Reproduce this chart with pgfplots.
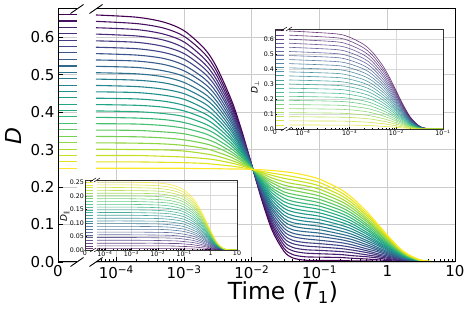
\documentclass[border=0pt]{standalone}
\usepackage{pgfplots}
\pgfplotsset{compat=1.18}
\usepackage{pgfplotstable}
\usepgfplotslibrary{colormaps}
\usepackage{fontspec}
\setmainfont{DejaVu Sans}

\pgfplotstableread{
t c0 c1 c2 c3 c4 c5 c6 c7 c8 c9 c10 c11 c12 c13 c14 c15 c16 c17 c18 c19 c20 c21 c22 c23 c24
5e-5 0.659 0.642 0.625 0.608 0.590 0.573 0.556 0.539 0.522 0.505 0.488 0.471 0.454 0.437 0.420 0.403 0.386 0.369 0.352 0.335 0.318 0.301 0.284 0.267 0.250
2e-4 0.653 0.636 0.620 0.603 0.586 0.569 0.552 0.536 0.519 0.502 0.485 0.468 0.452 0.435 0.418 0.401 0.384 0.368 0.351 0.334 0.317 0.300 0.284 0.267 0.250
5e-4 0.640 0.624 0.608 0.592 0.575 0.559 0.543 0.527 0.510 0.494 0.478 0.461 0.445 0.429 0.413 0.396 0.380 0.364 0.347 0.331 0.315 0.299 0.282 0.266 0.250
1e-3 0.617 0.602 0.587 0.571 0.556 0.541 0.525 0.510 0.495 0.479 0.464 0.449 0.434 0.418 0.403 0.388 0.372 0.357 0.342 0.326 0.311 0.296 0.280 0.265 0.250
2e-3 0.569 0.556 0.542 0.529 0.516 0.503 0.489 0.476 0.463 0.449 0.436 0.423 0.409 0.396 0.383 0.369 0.356 0.343 0.329 0.316 0.303 0.289 0.276 0.263 0.249
3e-3 0.521 0.510 0.499 0.487 0.476 0.465 0.453 0.442 0.430 0.419 0.408 0.396 0.385 0.374 0.362 0.351 0.340 0.328 0.317 0.306 0.294 0.283 0.272 0.260 0.249
5e-3 0.432 0.424 0.416 0.409 0.401 0.394 0.386 0.378 0.371 0.363 0.355 0.348 0.340 0.332 0.325 0.317 0.310 0.302 0.294 0.287 0.279 0.271 0.264 0.256 0.248
7e-3 0.354 0.349 0.345 0.340 0.336 0.332 0.327 0.323 0.318 0.314 0.309 0.305 0.301 0.296 0.292 0.287 0.283 0.279 0.274 0.270 0.265 0.261 0.257 0.252 0.248
1e-2 0.258 0.258 0.257 0.257 0.256 0.256 0.255 0.255 0.254 0.254 0.253 0.253 0.252 0.252 0.252 0.251 0.251 0.250 0.250 0.249 0.249 0.248 0.248 0.247 0.247
1.4e-2 0.166 0.170 0.173 0.176 0.180 0.183 0.186 0.190 0.193 0.196 0.199 0.203 0.206 0.209 0.213 0.216 0.219 0.223 0.226 0.229 0.232 0.236 0.239 0.242 0.246
2e-2 0.084 0.091 0.098 0.104 0.111 0.118 0.124 0.131 0.138 0.144 0.151 0.157 0.164 0.171 0.177 0.184 0.191 0.197 0.204 0.211 0.217 0.224 0.231 0.237 0.244
3e-2 0.028 0.036 0.045 0.054 0.063 0.072 0.081 0.090 0.099 0.108 0.116 0.125 0.134 0.143 0.152 0.161 0.170 0.179 0.187 0.196 0.205 0.214 0.223 0.232 0.241
4e-2 0.011 0.020 0.030 0.039 0.049 0.058 0.068 0.077 0.086 0.096 0.105 0.115 0.124 0.134 0.143 0.153 0.162 0.172 0.181 0.191 0.200 0.209 0.219 0.228 0.238
6e-2 0.005 0.014 0.024 0.033 0.043 0.052 0.062 0.071 0.081 0.090 0.100 0.109 0.118 0.128 0.137 0.147 0.156 0.166 0.175 0.185 0.194 0.204 0.213 0.222 0.232
0.1 0.004 0.013 0.022 0.031 0.040 0.049 0.058 0.068 0.077 0.086 0.095 0.104 0.113 0.122 0.131 0.140 0.149 0.158 0.167 0.176 0.185 0.194 0.203 0.212 0.221
0.2 0.004 0.012 0.020 0.028 0.036 0.044 0.052 0.060 0.067 0.075 0.083 0.091 0.099 0.107 0.115 0.123 0.131 0.139 0.147 0.155 0.163 0.171 0.179 0.187 0.195
0.3 0.003 0.010 0.017 0.025 0.032 0.039 0.046 0.053 0.060 0.067 0.074 0.081 0.088 0.095 0.102 0.109 0.116 0.123 0.130 0.137 0.144 0.151 0.158 0.165 0.172
0.5 0.003 0.008 0.014 0.019 0.025 0.030 0.035 0.041 0.046 0.052 0.057 0.063 0.068 0.074 0.079 0.085 0.090 0.096 0.101 0.107 0.112 0.117 0.123 0.128 0.134
0.7 0.002 0.006 0.011 0.015 0.019 0.023 0.028 0.032 0.036 0.040 0.045 0.049 0.053 0.057 0.062 0.066 0.070 0.074 0.079 0.083 0.087 0.091 0.096 0.100 0.104
1 0.001 0.004 0.007 0.010 0.013 0.016 0.019 0.022 0.025 0.028 0.031 0.034 0.037 0.039 0.042 0.045 0.048 0.051 0.054 0.057 0.060 0.063 0.066 0.069 0.072
1.5 0.001 0.002 0.004 0.005 0.007 0.009 0.010 0.012 0.013 0.015 0.016 0.018 0.020 0.021 0.023 0.024 0.026 0.027 0.029 0.031 0.032 0.034 0.035 0.037 0.038
2 0.000 0.001 0.002 0.003 0.004 0.005 0.005 0.006 0.007 0.008 0.009 0.010 0.010 0.011 0.012 0.013 0.014 0.015 0.016 0.016 0.017 0.018 0.019 0.020 0.021
3 0.000 0.000 0.001 0.001 0.001 0.001 0.002 0.002 0.002 0.002 0.003 0.003 0.003 0.003 0.003 0.004 0.004 0.004 0.004 0.005 0.005 0.005 0.005 0.006 0.006
4 0.000 0.000 0.000 0.000 0.000 0.000 0.000 0.001 0.001 0.001 0.001 0.001 0.001 0.001 0.001 0.001 0.001 0.001 0.001 0.001 0.001 0.001 0.002 0.002 0.002
6 0 0 0 0 0 0 0 0 0 0 0 0 0 0 0 0 0 0 0 0 0 0 0 0 0
10 0 0 0 0 0 0 0 0 0 0 0 0 0 0 0 0 0 0 0 0 0 0 0 0 0
}\maintab

\pgfplotstableread{
x c0 c1 c2 c3 c4 c5 c6 c7 c8 c9 c10 c11 c12 c13 c14 c15 c16 c17 c18 c19 c20 c21 c22 c23 c24
0 0.660 0.643 0.626 0.609 0.592 0.575 0.558 0.540 0.523 0.506 0.489 0.472 0.455 0.438 0.421 0.404 0.387 0.370 0.353 0.335 0.318 0.301 0.284 0.267 0.250
1 0.660 0.643 0.626 0.609 0.592 0.575 0.558 0.540 0.523 0.506 0.489 0.472 0.455 0.438 0.421 0.404 0.387 0.370 0.353 0.335 0.318 0.301 0.284 0.267 0.250
}\mainleft

\pgfplotstableread{
t c0 c1 c2 c3 c4 c5 c6 c7 c8 c9 c10 c11 c12 c13 c14 c15 c16 c17 c18 c19 c20 c21 c22 c23 c24
5e-5 0.654 0.626 0.599 0.572 0.545 0.517 0.490 0.463 0.436 0.408 0.381 0.354 0.327 0.300 0.272 0.245 0.218 0.191 0.163 0.136 0.109 0.082 0.054 0.027 0.000
5e-4 0.635 0.609 0.582 0.556 0.530 0.503 0.477 0.450 0.424 0.397 0.371 0.344 0.318 0.291 0.265 0.238 0.212 0.185 0.159 0.132 0.106 0.079 0.053 0.026 0.000
1e-3 0.612 0.587 0.561 0.536 0.510 0.485 0.459 0.434 0.408 0.383 0.357 0.332 0.306 0.281 0.255 0.230 0.204 0.179 0.153 0.128 0.102 0.077 0.051 0.026 0.000
2e-3 0.564 0.541 0.517 0.494 0.470 0.447 0.423 0.400 0.376 0.353 0.329 0.306 0.282 0.259 0.235 0.212 0.188 0.165 0.141 0.118 0.094 0.071 0.047 0.024 0.000
3e-3 0.516 0.495 0.473 0.452 0.430 0.409 0.387 0.366 0.344 0.323 0.301 0.280 0.258 0.237 0.215 0.194 0.172 0.151 0.129 0.108 0.086 0.065 0.043 0.022 0.000
5e-3 0.427 0.409 0.391 0.373 0.356 0.338 0.320 0.302 0.285 0.267 0.249 0.231 0.213 0.196 0.178 0.160 0.142 0.124 0.107 0.089 0.071 0.053 0.036 0.018 0.000
7e-3 0.349 0.334 0.320 0.305 0.290 0.276 0.261 0.247 0.232 0.218 0.203 0.189 0.174 0.160 0.145 0.131 0.116 0.102 0.087 0.073 0.058 0.044 0.029 0.015 0.000
1e-2 0.253 0.243 0.232 0.222 0.211 0.200 0.190 0.179 0.169 0.158 0.148 0.137 0.127 0.116 0.105 0.095 0.084 0.074 0.063 0.053 0.042 0.032 0.021 0.011 0.000
1.4e-2 0.162 0.155 0.148 0.141 0.135 0.128 0.121 0.114 0.108 0.101 0.094 0.088 0.081 0.074 0.067 0.061 0.054 0.047 0.040 0.034 0.027 0.020 0.013 0.007 0.000
2e-2 0.079 0.076 0.073 0.070 0.066 0.063 0.060 0.056 0.053 0.050 0.046 0.043 0.040 0.036 0.033 0.030 0.026 0.023 0.020 0.017 0.013 0.010 0.007 0.003 0.000
3e-2 0.023 0.022 0.021 0.020 0.019 0.018 0.017 0.016 0.015 0.014 0.013 0.012 0.011 0.010 0.009 0.009 0.008 0.007 0.006 0.005 0.004 0.003 0.002 0.001 0.000
4e-2 0.006 0.006 0.006 0.005 0.005 0.005 0.005 0.004 0.004 0.004 0.004 0.003 0.003 0.003 0.003 0.002 0.002 0.002 0.002 0.001 0.001 0.001 0.001 0.000 0.000
6e-2 0 0 0 0 0 0 0 0 0 0 0 0 0 0 0 0 0 0 0 0 0 0 0 0 0
0.1 0 0 0 0 0 0 0 0 0 0 0 0 0 0 0 0 0 0 0 0 0 0 0 0 0
}\perptab

\pgfplotstableread{
x c0 c1 c2 c3 c4 c5 c6 c7 c8 c9 c10 c11 c12 c13 c14 c15 c16 c17 c18 c19 c20 c21 c22 c23 c24
0 0.655 0.628 0.600 0.573 0.546 0.519 0.491 0.464 0.437 0.409 0.382 0.355 0.328 0.300 0.273 0.246 0.218 0.191 0.164 0.136 0.109 0.082 0.055 0.027 0.000
1 0.655 0.628 0.600 0.573 0.546 0.519 0.491 0.464 0.437 0.409 0.382 0.355 0.328 0.300 0.273 0.246 0.218 0.191 0.164 0.136 0.109 0.082 0.055 0.027 0.000
}\perpleft

\pgfplotstableread{
t c0 c1 c2 c3 c4 c5 c6 c7 c8 c9 c10 c11 c12 c13 c14 c15 c16 c17 c18 c19 c20 c21 c22 c23 c24
5e-5 0.005 0.015 0.025 0.036 0.046 0.056 0.066 0.076 0.087 0.097 0.107 0.117 0.128 0.138 0.148 0.158 0.168 0.179 0.189 0.199 0.209 0.219 0.230 0.240 0.250
1e-3 0.005 0.015 0.025 0.036 0.046 0.056 0.066 0.076 0.087 0.097 0.107 0.117 0.128 0.138 0.148 0.158 0.168 0.179 0.189 0.199 0.209 0.219 0.230 0.240 0.250
1e-2 0.005 0.015 0.025 0.035 0.045 0.055 0.065 0.076 0.086 0.096 0.106 0.116 0.126 0.136 0.146 0.156 0.166 0.176 0.186 0.197 0.207 0.217 0.227 0.237 0.247
3e-2 0.005 0.015 0.024 0.034 0.044 0.054 0.064 0.074 0.084 0.093 0.103 0.113 0.123 0.133 0.142 0.152 0.162 0.172 0.182 0.192 0.201 0.211 0.221 0.231 0.241
6e-2 0.005 0.014 0.024 0.033 0.043 0.052 0.061 0.071 0.080 0.090 0.099 0.109 0.118 0.128 0.137 0.147 0.156 0.166 0.175 0.185 0.194 0.204 0.213 0.222 0.232
0.1 0.004 0.013 0.022 0.031 0.040 0.049 0.058 0.068 0.077 0.086 0.095 0.104 0.113 0.122 0.131 0.140 0.149 0.158 0.167 0.176 0.185 0.194 0.203 0.212 0.221
0.2 0.004 0.012 0.020 0.028 0.036 0.044 0.052 0.060 0.067 0.075 0.083 0.091 0.099 0.107 0.115 0.123 0.131 0.139 0.147 0.155 0.163 0.171 0.179 0.187 0.195
0.3 0.003 0.010 0.017 0.025 0.032 0.039 0.046 0.053 0.060 0.067 0.074 0.081 0.088 0.095 0.102 0.109 0.116 0.123 0.130 0.137 0.144 0.151 0.158 0.165 0.172
0.5 0.003 0.008 0.014 0.019 0.025 0.030 0.035 0.041 0.046 0.052 0.057 0.063 0.068 0.074 0.079 0.085 0.090 0.096 0.101 0.107 0.112 0.117 0.123 0.128 0.134
0.7 0.002 0.006 0.011 0.015 0.019 0.023 0.028 0.032 0.036 0.040 0.045 0.049 0.053 0.057 0.062 0.066 0.070 0.074 0.079 0.083 0.087 0.091 0.096 0.100 0.104
1 0.001 0.004 0.007 0.010 0.013 0.016 0.019 0.022 0.025 0.028 0.031 0.034 0.037 0.039 0.042 0.045 0.048 0.051 0.054 0.057 0.060 0.063 0.066 0.069 0.072
1.5 0.001 0.002 0.004 0.005 0.007 0.009 0.010 0.012 0.013 0.015 0.016 0.018 0.020 0.021 0.023 0.024 0.026 0.027 0.029 0.031 0.032 0.034 0.035 0.037 0.038
2 0.000 0.001 0.002 0.003 0.004 0.005 0.005 0.006 0.007 0.008 0.009 0.010 0.010 0.011 0.012 0.013 0.014 0.015 0.016 0.016 0.017 0.018 0.019 0.020 0.021
3 0.000 0.000 0.001 0.001 0.001 0.001 0.002 0.002 0.002 0.002 0.003 0.003 0.003 0.003 0.003 0.004 0.004 0.004 0.004 0.005 0.005 0.005 0.005 0.006 0.006
4 0.000 0.000 0.000 0.000 0.000 0.000 0.000 0.001 0.001 0.001 0.001 0.001 0.001 0.001 0.001 0.001 0.001 0.001 0.001 0.001 0.001 0.001 0.002 0.002 0.002
6 0 0 0 0 0 0 0 0 0 0 0 0 0 0 0 0 0 0 0 0 0 0 0 0 0
10 0 0 0 0 0 0 0 0 0 0 0 0 0 0 0 0 0 0 0 0 0 0 0 0 0
}\partab

\pgfplotstableread{
x c0 c1 c2 c3 c4 c5 c6 c7 c8 c9 c10 c11 c12 c13 c14 c15 c16 c17 c18 c19 c20 c21 c22 c23 c24
0 0.005 0.015 0.025 0.036 0.046 0.056 0.066 0.076 0.087 0.097 0.107 0.117 0.128 0.138 0.148 0.158 0.168 0.179 0.189 0.199 0.209 0.219 0.230 0.240 0.250
1 0.005 0.015 0.025 0.036 0.046 0.056 0.066 0.076 0.087 0.097 0.107 0.117 0.128 0.138 0.148 0.158 0.168 0.179 0.189 0.199 0.209 0.219 0.230 0.240 0.250
}\parleft

\pgfplotsset{
  base/.style={
    scale only axis, anchor=south west,
    axis line style={draw=none},
    tick align=inside, tick pos=left,
    grid=major,
    colormap/viridis,
    cycle list={[samples of colormap=25]},
    no markers, clip=true,
  },
  mainax/.style={base, height=253pt, ymin=0, ymax=0.675,
    ytick={0,0.1,0.2,0.3,0.4,0.5,0.6},
    major grid style={draw=black!20, line width=0.9pt},
    major tick length=5pt, minor tick length=3pt,
    tick style={black, line width=0.8pt},
    tick label style={font=\fontsize{15}{18}\selectfont},
    every axis plot/.append style={line width=1.1pt},
  },
  inax/.style={base,
    major grid style={draw=black!15, line width=0.5pt},
    major tick length=2pt, minor tick length=1.2pt,
    tick style={black, line width=0.4pt},
    tick label style={font=\fontsize{6.3}{7.5}\selectfont, inner sep=1pt},
    every axis plot/.append style={line width=0.6pt, opacity=0.8},
  },
}

\begin{document}
\begin{tikzpicture}
\useasboundingbox (0pt,0pt) rectangle (468pt,312pt);
% ---------------- main axes
\begin{axis}[mainax, at={(58pt,50pt)}, width=19pt, xmin=0, xmax=1,
  xtick={0}, xticklabels={0},
  yticklabels={0.0,0.1,0.2,0.3,0.4,0.5,0.6}]
\pgfplotsinvokeforeach{0,...,24}{\addplot+[] table[x=x,y=c#1]{\mainleft};}
\end{axis}
\begin{axis}[mainax, at={(96pt,50pt)}, width=359pt, xmode=log, xmin=5e-5, xmax=10,
  xtick={1e-4,1e-3,1e-2,1e-1,1,10},
  xticklabels={10\textsuperscript{−4},10\textsuperscript{−3},10\textsuperscript{−2},10\textsuperscript{−1},1,10},
  minor xtick={6e-5,7e-5,8e-5,9e-5,2e-4,3e-4,4e-4,5e-4,6e-4,7e-4,8e-4,9e-4,2e-3,3e-3,4e-3,5e-3,6e-3,7e-3,8e-3,9e-3,2e-2,3e-2,4e-2,5e-2,6e-2,7e-2,8e-2,9e-2,0.2,0.3,0.4,0.5,0.6,0.7,0.8,0.9,2,3,4,5,6,7,8,9},
  yticklabels={}, ytick style={draw=none}]
\pgfplotsinvokeforeach{0,...,24}{\addplot+[smooth] table[x=t,y=c#1]{\maintab};}
\end{axis}
\begin{scope}[x=1pt,y=1pt]
\draw[line width=1pt] (77,50)--(58,50)--(58,303)--(77,303);
\draw[line width=1pt] (96,50)--(455,50)--(455,303)--(96,303);
\foreach \px/\py in {77/303,77/50,96/303,96/50}
  \draw[line width=0.9pt] (\px-6.5,\py-4.5)--(\px+6.5,\py+4.5);
\node[rotate=90, font=\fontsize{22}{26}\selectfont] at (13,176) {\textit{D}};
\node[anchor=base, font=\fontsize{23.5}{28}\selectfont] at (283,12) {Time (\textit{T}\textsubscript{1})};
\fill[white] (275,183) rectangle (443,283);
\end{scope}

% ---------------- inset 1 (D perp)
\begin{axis}[inax, at={(275pt,183pt)}, width=9pt, height=100pt, xmin=0, xmax=1, ymin=0, ymax=0.667,
  xtick={0}, xticklabels={0},
  ytick={0,0.1,0.2,0.3,0.4,0.5,0.6}, yticklabels={0.0,0.1,0.2,0.3,0.4,0.5,0.6}]
\pgfplotsinvokeforeach{0,...,24}{\addplot+[] table[x=x,y=c#1]{\perpleft};}
\end{axis}
\begin{axis}[inax, at={(289pt,183pt)}, width=154pt, height=100pt, xmode=log, xmin=5e-5, xmax=0.1, ymin=0, ymax=0.667,
  xtick={1e-4,1e-3,1e-2,1e-1},
  xticklabels={10\textsuperscript{−4},10\textsuperscript{−3},10\textsuperscript{−2},10\textsuperscript{−1}},
  minor xtick={6e-5,7e-5,8e-5,9e-5,2e-4,3e-4,4e-4,5e-4,6e-4,7e-4,8e-4,9e-4,2e-3,3e-3,4e-3,5e-3,6e-3,7e-3,8e-3,9e-3,2e-2,3e-2,4e-2,5e-2,6e-2,7e-2,8e-2,9e-2},
  ytick={0,0.1,0.2,0.3,0.4,0.5,0.6}, yticklabels={}, ytick style={draw=none}]
\pgfplotsinvokeforeach{0,...,24}{\addplot+[smooth] table[x=t,y=c#1]{\perptab};}
\end{axis}
\begin{scope}[x=1pt,y=1pt]
\draw[line width=0.6pt, black!80] (284,183)--(275,183)--(275,283)--(284,283);
\draw[line width=0.6pt, black!80] (289,183)--(443,183)--(443,283)--(289,283);
\foreach \px/\py in {284/283,284/183,289/283,289/183}
  \draw[line width=0.5pt] (\px-3,\py-2)--(\px+3,\py+2);
\node[rotate=90, font=\fontsize{9}{11}\selectfont] at (255,225) {\textit{D}\textsubscript{⊥}};
\fill[white] (85,62) rectangle (237,132);
\end{scope}

% ---------------- inset 2 (D par)
\begin{axis}[inax, at={(85pt,62pt)}, width=8pt, height=70pt, xmin=0, xmax=1, ymin=0, ymax=0.258,
  xtick={0}, xticklabels={0},
  ytick={0,0.05,0.1,0.15,0.2,0.25}, yticklabels={0.00,0.05,0.10,0.15,0.20,0.25}]
\pgfplotsinvokeforeach{0,...,24}{\addplot+[] table[x=x,y=c#1]{\parleft};}
\end{axis}
\begin{axis}[inax, at={(97pt,62pt)}, width=140pt, height=70pt, xmode=log, xmin=5e-5, xmax=10, ymin=0, ymax=0.258,
  xtick={1e-4,1e-3,1e-2,1e-1,1,10},
  xticklabels={10\textsuperscript{−4},10\textsuperscript{−3},10\textsuperscript{−2},10\textsuperscript{−1},1,10},
  minor xtick={6e-5,7e-5,8e-5,9e-5,2e-4,3e-4,4e-4,5e-4,6e-4,7e-4,8e-4,9e-4,2e-3,3e-3,4e-3,5e-3,6e-3,7e-3,8e-3,9e-3,2e-2,3e-2,4e-2,5e-2,6e-2,7e-2,8e-2,9e-2,0.2,0.3,0.4,0.5,0.6,0.7,0.8,0.9,2,3,4,5,6,7,8,9},
  ytick={0,0.05,0.1,0.15,0.2,0.25}, yticklabels={}, ytick style={draw=none}]
\pgfplotsinvokeforeach{0,...,24}{\addplot+[smooth] table[x=t,y=c#1]{\partab};}
\end{axis}
\begin{scope}[x=1pt,y=1pt]
\draw[line width=0.6pt, black!80] (93,62)--(85,62)--(85,132)--(93,132);
\draw[line width=0.6pt, black!80] (97,62)--(237,62)--(237,132)--(97,132);
\foreach \px/\py in {93/132,93/62,97/132,97/62}
  \draw[line width=0.5pt] (\px-3,\py-2)--(\px+3,\py+2);
\node[rotate=90, font=\fontsize{9}{11}\selectfont] at (65,96) {\textit{D}\textsubscript{∥}};
\end{scope}
\end{tikzpicture}
\end{document}
